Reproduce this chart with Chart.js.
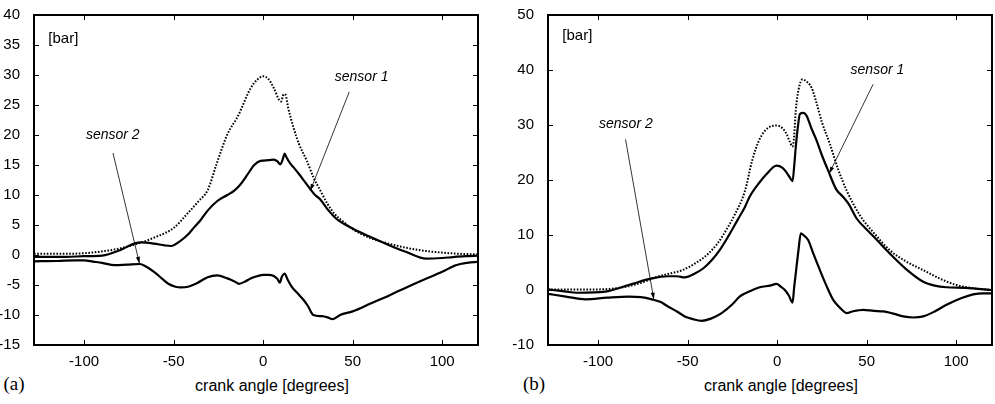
<!DOCTYPE html>
<html>
<head>
<meta charset="utf-8">
<script src="https://cdn.jsdelivr.net/npm/chart.js@4.4.1/dist/chart.umd.min.js"></script>
<style>
  body { margin: 0; background: #fff; }
  #wrap { position: relative; width: 995px; height: 404px; overflow: hidden; background: #fff; }
  canvas { position: absolute; top: 0; }
  .lbl { position: absolute; transform: translate(-50%, -50%); white-space: nowrap; color: #000; }
  .axt { font: 16px "Liberation Sans", Arial, sans-serif; }
  .pan { font: 19px "Liberation Serif", "Times New Roman", serif; }
</style>
</head>
<body>
<div id="wrap">
  <canvas id="chartA" width="490" height="370" style="left:0"></canvas>
  <canvas id="chartB" width="490" height="370" style="left:505px"></canvas>
  <div class="lbl pan" style="left:14px; top:384px">(a)</div>
  <div class="lbl axt" style="left:272px; top:386px">crank angle [degrees]</div>
  <div class="lbl pan" style="left:534px; top:384px">(b)</div>
  <div class="lbl axt" style="left:781px; top:386px">crank angle [degrees]</div>
</div>
<script>
// (a) — valores
const angA_ref = [-128, -110, -100, -90, -80, -70, -60, -50, -42, -36, -31, -26, -20, -14, -7, -3, 0, 3, 6, 9, 10, 11.5, 12.5, 14, 17, 20, 24.4, 28, 32, 36, 40, 45, 50, 60, 70, 80, 90, 100, 110, 120];
const pA_ref = [0.2, 0.2, 0.3, 0.6, 1.1, 1.9, 3.0, 4.5, 7.0, 9.0, 10.8, 15.2, 20.1, 23.2, 27.8, 29.3, 29.8, 29.3, 27.8, 25.8, 25.6, 26.8, 26.7, 24.5, 21.2, 18.5, 15.7, 13.0, 10.7, 8.5, 6.8, 5.5, 4.3, 2.8, 1.9, 1.2, 0.7, 0.4, 0.2, 0.1];

const angA_s1 = [-128, -110, -100, -90, -80, -72, -68, -61, -55, -51.5, -46, -42, -38.6, -35, -31, -25.6, -20, -16.3, -12.6, -9, -5, -1.5, 3, 6, 8, 9.6, 11, 12, 13, 15, 17, 20, 23, 26.3, 29, 31.8, 36, 41, 45, 50.4, 60, 70.7, 80, 91, 100, 106, 113, 120];
const pA_s1 = [-0.3, -0.3, -0.2, -0.1, 0.8, 1.9, 2.1, 1.9, 1.6, 1.5, 2.4, 3.4, 4.6, 5.8, 7.4, 9.0, 10.0, 10.7, 11.8, 13.3, 15.0, 15.7, 15.8, 15.9, 15.6, 15.1, 16.0, 16.9, 16.3, 15.3, 14.6, 13.5, 12.3, 11.0, 10.0, 9.3, 7.6, 6.0, 5.2, 4.35, 3.0, 1.6, 0.5, -0.6, -0.5, -0.35, -0.2, -0.1];

const angA_s2 = [-128, -115, -105, -100, -95, -90, -83, -76, -69, -65, -61, -57, -53, -49, -46, -42, -37, -31, -25.6, -20, -16, -13.5, -10, -7, -3, 0, 3, 5.9, 8, 9.3, 10.5, 12, 13.5, 16, 19, 22.6, 25, 28, 32.8, 36, 38.9, 43, 50, 60, 70.7, 80, 89, 100, 107.6, 114, 120];
const pA_s2 = [-1.05, -1.0, -0.9, -0.9, -1.1, -1.3, -1.7, -1.6, -1.5, -2.0, -2.8, -3.8, -4.8, -5.3, -5.4, -5.3, -4.7, -3.7, -3.4, -3.9, -4.4, -4.8, -4.4, -3.9, -3.5, -3.3, -3.3, -3.5, -4.0, -4.6, -3.6, -3.1, -4.0, -5.3, -6.3, -7.5, -8.5, -10.0, -10.2, -10.4, -10.7, -10.0, -9.4, -8.1, -6.7, -5.4, -4.2, -2.8, -1.7, -1.3, -1.15];

// (b)
const angB_ref = [-128, -102, -90, -83, -75, -68, -60, -53, -45, -38.5, -33, -27.4, -24, -18, -14, -10, -5, 0, 3, 5.2, 7, 8.6, 9.5, 10.4, 12, 14.2, 16, 19.2, 22, 25, 29.4, 34, 38.8, 46.2, 55, 63, 72, 81.6, 90, 100.2, 110, 120];
const pB_ref = [0.1, 0.1, 0.3, 0.7, 1.4, 2.3, 3.0, 3.6, 5.0, 6.6, 8.6, 11.5, 13.5, 18.0, 23.5, 27.3, 29.5, 29.9, 29.4, 28.4, 27.0, 26.1, 28.0, 32.6, 36.5, 38.3, 38.0, 36.8, 34.0, 30.5, 26.6, 22.0, 18.1, 13.6, 10.0, 7.2, 5.2, 3.6, 2.2, 0.9, 0.3, 0.0];

const angB_s1 = [-128, -120, -111, -96, -83, -70, -61, -56, -51.6, -46, -41, -36.6, -32, -27.4, -22, -18, -15.3, -10, -5.9, -0.3, 3, 5.2, 7, 8.6, 9.5, 10.4, 11.5, 12.7, 14.5, 16.4, 19, 22, 25, 28.5, 33, 36.9, 40, 44.4, 50, 56, 63, 72, 81.6, 88, 94.6, 105, 112, 120];
const pB_s1 = [0.1, -0.2, -0.5, -0.3, 0.9, 2.1, 2.5, 2.5, 2.3, 3.0, 4.0, 5.4, 7.3, 9.7, 12.8, 15.1, 17.0, 19.5, 21.1, 22.6, 22.2, 21.4, 20.5, 19.8, 22.5, 26.0, 29.5, 32.0, 32.2, 31.7, 29.5, 27.2, 24.5, 21.7, 18.3, 16.9, 15.6, 13.0, 11.0, 9.0, 6.6, 3.8, 1.5, 0.8, 0.5, 0.4, 0.2, 0.0];

const angB_s2 = [-128, -118, -107, -95, -83, -76, -70, -65, -61, -56, -51.6, -47, -42.2, -37, -31, -25, -21, -15, -9.7, -4, -0.3, 2, 4.3, 6.5, 8.6, 9.5, 10.8, 12, 13.2, 15, 17.3, 20, 23.9, 27.5, 31.3, 35, 38.8, 42, 48, 54, 59.2, 65, 70.4, 76, 81.6, 88, 94.6, 102, 109.5, 115, 120];
const pB_s2 = [-0.7, -1.2, -1.7, -1.4, -1.2, -1.3, -1.7, -2.2, -3.0, -3.9, -4.8, -5.3, -5.6, -5.2, -4.2, -2.6, -1.2, -0.2, 0.5, 0.8, 1.1, 0.6, 0.0, -1.0, -2.3, 0.5, 4.2, 7.5, 10.3, 9.9, 9.1, 6.8, 3.6, 0.8, -1.8, -3.2, -4.2, -3.9, -3.6, -3.8, -3.9, -4.3, -4.8, -5.0, -4.8, -3.9, -2.7, -1.6, -0.8, -0.6, -0.6];

const angRange = [-128, 120];
const angTicks = [-100, -50, 0, 50, 100];
const yRangeA = [-15, 40];
const yRangeB = [-10, 50];

const FONT = '"Liberation Sans", Arial, sans-serif';

const pontos = (xs, ys) => xs.map((x, i) => ({ x: x, y: ys[i] }));

// moldura com marcas para dentro + textos e setas
const molduraPlugin = {
    id: "moldura",
    afterDraw(chart, args, opts) {
        const { ctx, chartArea: a, scales: { x, y } } = chart;
        ctx.save();
        ctx.strokeStyle = "#000";
        ctx.lineWidth = 1;
        ctx.beginPath();
        x.ticks.forEach(t => {
            const px = Math.round(x.getPixelForValue(t.value)) + 0.5;
            ctx.moveTo(px, a.bottom); ctx.lineTo(px, a.bottom - 5);
            ctx.moveTo(px, a.top); ctx.lineTo(px, a.top + 5);
        });
        y.ticks.forEach(t => {
            const py = Math.round(y.getPixelForValue(t.value)) + 0.5;
            ctx.moveTo(a.left, py); ctx.lineTo(a.left + 5, py);
            ctx.moveTo(a.right, py); ctx.lineTo(a.right - 5, py);
        });
        ctx.stroke();
        ctx.lineWidth = 2;
        ctx.strokeRect(a.left, a.top, a.right - a.left, a.bottom - a.top);

        ctx.fillStyle = "#000";
        ctx.textBaseline = "middle";
        (opts.textos || []).forEach(n => {
            ctx.font = n.font;
            ctx.textAlign = n.align;
            ctx.fillText(n.texto, x.getPixelForValue(n.x), y.getPixelForValue(n.y));
        });

        ctx.lineWidth = 0.8;
        (opts.setas || []).forEach(s => {
            const x0 = x.getPixelForValue(s.de[0]), y0 = y.getPixelForValue(s.de[1]);
            const x1 = x.getPixelForValue(s.para[0]), y1 = y.getPixelForValue(s.para[1]);
            const ang = Math.atan2(y1 - y0, x1 - x0);
            ctx.beginPath();
            ctx.moveTo(x0, y0); ctx.lineTo(x1, y1);
            ctx.stroke();
            ctx.beginPath();
            ctx.moveTo(x1, y1);
            ctx.lineTo(x1 - 7 * Math.cos(ang - 0.3), y1 - 7 * Math.sin(ang - 0.3));
            ctx.lineTo(x1 - 7 * Math.cos(ang + 0.3), y1 - 7 * Math.sin(ang + 0.3));
            ctx.closePath();
            ctx.fill();
        });
        ctx.restore();
    }
};

const linha = (data, pontilhada) => ({
    data: data,
    borderColor: "#000",
    borderWidth: pontilhada ? 2 : 2.2,
    borderDash: pontilhada ? [1.6, 1.6] : [],
    pointRadius: 0,
    fill: false,
    cubicInterpolationMode: "monotone"
});

const criarGrafico = (id, series, yRange, passo, larguraY, padRight, padTop, anotacoes) => {
    return new Chart(document.getElementById(id), {
        type: "line",
        data: { datasets: series },
        plugins: [molduraPlugin],
        options: {
            responsive: false,
            animation: false,
            layout: { padding: { top: padTop, right: padRight, left: 0, bottom: 0 } },
            plugins: { legend: { display: false }, tooltip: { enabled: false }, moldura: anotacoes },
            scales: {
                x: {
                    type: "linear",
                    min: angRange[0], max: angRange[1],
                    grid: { display: false }, border: { display: false },
                    ticks: { padding: 0, color: "#000", font: { family: FONT, size: 15 }, maxRotation: 0, autoSkip: false },
                    afterBuildTicks: s => { s.ticks = angTicks.map(v => ({ value: v })); },
                    afterFit: s => { s.height = 25; }
                },
                y: {
                    min: yRange[0], max: yRange[1],
                    grid: { display: false }, border: { display: false },
                    ticks: { stepSize: passo, padding: 6, color: "#000", font: { family: FONT, size: 15 } },
                    afterFit: s => { s.width = larguraY; }
                }
            }
        }
    });
};

const italico = "italic 14px " + FONT;
const normal = "15px " + FONT;

criarGrafico("chartA",
    [linha(pontos(angA_ref, pA_ref), true), linha(pontos(angA_s1, pA_s1), false), linha(pontos(angA_s2, pA_s2), false)],
    yRangeA, 5, 34, 12, 13,
    {
        textos: [
            { texto: "[bar]", x: -120, y: 36, align: "left", font: normal },
            { texto: "sensor 2", x: -84, y: 20, align: "center", font: italico },
            { texto: "sensor 1", x: 55, y: 29.7, align: "center", font: italico }
        ],
        setas: [
            { de: [-83.9, 17.0], para: [-69.1, -1.4] },
            { de: [48.1, 27.2], para: [26.3, 10.7] }
        ]
    });

criarGrafico("chartB",
    [linha(pontos(angB_ref, pB_ref), true), linha(pontos(angB_s1, pB_s1), false), linha(pontos(angB_s2, pB_s2), false)],
    yRangeB, 10, 43, 3, 14,
    {
        textos: [
            { texto: "[bar]", x: -120, y: 46.2, align: "left", font: normal },
            { texto: "sensor 2", x: -84.5, y: 30.1, align: "center", font: italico },
            { texto: "sensor 1", x: 56, y: 39.9, align: "center", font: italico }
        ],
        setas: [
            { de: [-84.7, 27.4], para: [-68.9, -1.7] },
            { de: [53.6, 37.4], para: [29.1, 21.2] }
        ]
    });
</script>
</body>
</html>
